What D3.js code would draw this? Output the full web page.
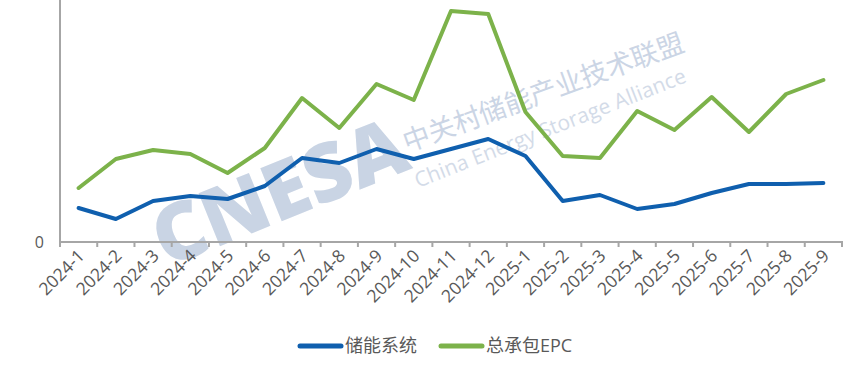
<html>
<head>
<meta charset="utf-8">
<script src="https://cdn.jsdelivr.net/npm/d3@7/dist/d3.min.js"></script>
<style>
  body { margin: 0; background: #fff; }
  text { font-family: "Open Sans", "Noto Sans CJK SC", sans-serif; fill: #595959; }
</style>
</head>
<body>
<svg width="865" height="369"></svg>
<script>
var months = ["2024-1","2024-2","2024-3","2024-4","2024-5","2024-6","2024-7","2024-8","2024-9","2024-10","2024-11","2024-12",
              "2025-1","2025-2","2025-3","2025-4","2025-5","2025-6","2025-7","2025-8","2025-9"];
var storageSystem = [3.4,2.3,4.1,4.6,4.3,5.6,8.4,7.9,9.3,8.3,9.3,10.3,8.6,4.1,4.7,3.3,3.8,4.9,5.8,5.8,5.9];
var epc = [5.4,8.3,9.2,8.8,6.9,9.4,14.4,11.4,15.8,14.2,23.1,22.8,13.0,8.6,8.4,13.1,11.2,14.5,11.0,14.8,16.2];
var seriesNames = ["储能系统","总承包EPC"];
var colors = ["#0f5fae","#7cb24a"];

var svg = d3.select("svg");
var plotLeft = 60, plotRight = 842, plotTop = 0, plotBottom = 242;

var x = d3.scaleBand().domain(months).range([plotLeft, plotRight]);
var y = d3.scaleLinear().domain([0, 24.2]).range([plotBottom, plotTop]);
var cx = function(d){ return x(d) + x.bandwidth()/2; };

// watermark
var wm = svg.append("g");
wm.append("text").attr("transform","translate(166,268) rotate(-22)")
  .attr("font-size", 80).attr("font-weight", "800")
  .style("fill", "#c9d4e4").style("font-family","Open Sans").text("CNESA");
wm.append("text").attr("transform","translate(407,152) rotate(-20)")
  .attr("font-size", 27).style("fill", "#cbd5e5").style("font-family","Noto Sans CJK SC")
  .text("中关村储能产业技术联盟");
wm.append("text").attr("transform","translate(418,188) rotate(-21.5)")
  .attr("font-size", 21).style("fill", "#d3dbe8").style("font-family","Open Sans")
  .text("China Energy Storage Alliance");

// axes
svg.append("line").attr("x1", plotLeft).attr("x2", plotLeft).attr("y1", plotTop).attr("y2", plotBottom)
  .attr("stroke", "#a6a6a6").attr("stroke-width", 2);
svg.append("line").attr("x1", plotLeft).attr("x2", plotRight + 1).attr("y1", plotBottom).attr("y2", plotBottom)
  .attr("stroke", "#a6a6a6").attr("stroke-width", 2);
var bounds = months.map(function(m){ return x(m); }).concat([x.range()[1]]);
svg.append("g").selectAll("line").data(bounds).enter().append("line")
  .attr("x1", function(d){ return d; }).attr("x2", function(d){ return d; })
  .attr("y1", plotBottom).attr("y2", plotBottom + 5)
  .attr("stroke", "#a6a6a6").attr("stroke-width", 2);

svg.append("text").attr("x", plotLeft - 16).attr("y", y(0)).attr("dy", "0.35em")
  .attr("text-anchor", "end").attr("font-size", 16).text("0");

svg.append("g").selectAll("text").data(months).enter().append("text")
  .attr("transform", function(d){ return "translate(" + (cx(d) + 7) + "," + (plotBottom + 15) + ") rotate(-45)"; })
  .attr("text-anchor", "end").attr("font-size", 17.5).text(function(d){ return d; });

// lines
var line = d3.line().x(function(d, i){ return cx(months[i]); }).y(function(d){ return y(d); });
[storageSystem, epc].forEach(function(s, i){
  svg.append("path").datum(s).attr("d", line).attr("fill", "none")
    .attr("stroke", colors[i]).attr("stroke-width", 4)
    .attr("stroke-linejoin", "round").attr("stroke-linecap", "round");
});

// legend
var lx = [300, 441];
seriesNames.forEach(function(n, i){
  svg.append("line").attr("x1", lx[i]).attr("x2", lx[i] + 41).attr("y1", 346).attr("y2", 346)
    .attr("stroke", colors[i]).attr("stroke-width", 5).attr("stroke-linecap", "round");
  svg.append("text").attr("x", lx[i] + 45).attr("y", 346).attr("dy", "0.35em")
    .attr("font-size", 18).text(n);
});
</script>
</body>
</html>
